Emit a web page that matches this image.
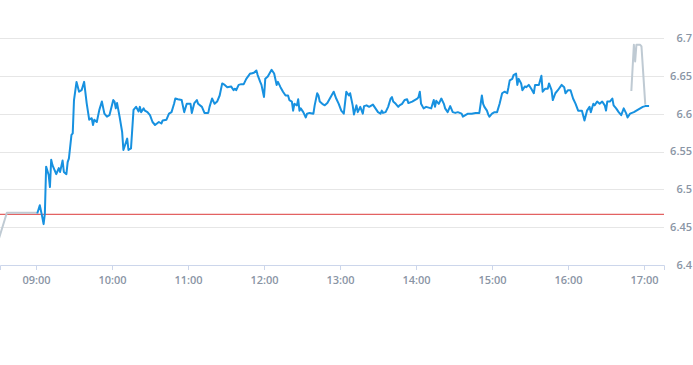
<!DOCTYPE html>
<html>
<head>
<meta charset="utf-8">
<script src="https://cdn.jsdelivr.net/npm/d3@7"></script>
<style>
  body { margin: 0; background: #fff; }
  .axis-label { font-family: "Open Sans", sans-serif; font-size: 11px; font-weight: 600; fill: #8a95a5; }
</style>
</head>
<body>
<div id="chart"></div>
<script>
const width = 693;
const height = 365;
const plot = { left: 0, right: 664, top: 38, bottom: 265 };

// DATA
const prevClose = 6.467;
const yTicks = [6.4, 6.45, 6.5, 6.55, 6.6, 6.65, 6.7];
const xDomain = ["08:31:35", "17:15:47"];

const tradeTimes = [
  "09:01","09:03","09:05","09:06","09:07","09:08","09:10","09:11","09:12","09:13","09:14","09:16","09:18","09:19","09:21","09:22","09:24","09:25","09:26","09:28","09:29","09:30","09:32","09:34","09:36","09:38","09:40","09:42","09:44","09:45","09:46","09:48","09:50","09:52","09:54","09:56","09:58",
  "10:01","10:02","10:03","10:04","10:06","10:08","10:09","10:12","10:13","10:15","10:17","10:19","10:21","10:22","10:23","10:25","10:26","10:28","10:30","10:32","10:33","10:34","10:37","10:39","10:40","10:43","10:45","10:47","10:49","10:50","10:52","10:55","10:57","10:59",
  "11:02","11:03","11:05","11:07","11:08","11:11","11:13","11:16","11:17","11:19","11:21","11:23","11:25","11:27","11:29","11:31","11:34","11:36","11:37","11:38","11:40","11:42","11:44","11:46","11:49","11:50","11:52","11:54","11:55","11:57","11:58",
  "12:00","12:01","12:03","12:06","12:08","12:10","12:11","12:13","12:15","12:17","12:19","12:20","12:22","12:23","12:24","12:26","12:27","12:28","12:29","12:31","12:33","12:34","12:36","12:39","12:40","12:42","12:43","12:44","12:46","12:48","12:50","12:52","12:55","12:57","12:59",
  "13:01","13:03","13:05","13:07","13:08","13:10","13:11","13:13","13:14","13:16","13:18","13:19","13:21","13:23","13:25","13:26","13:28","13:30","13:32","13:33","13:34","13:36","13:38","13:40","13:41","13:42","13:44","13:46","13:47","13:49","13:51","13:53","13:54","13:57","13:59",
  "14:01","14:02","14:03","14:04","14:06","14:08","14:10","14:12","14:14","14:15","14:16","14:18","14:20","14:22","14:23","14:25","14:27","14:29","14:31","14:33","14:36","14:37","14:39","14:41","14:44","14:47","14:50","14:52","14:53","14:54","14:56","14:57","14:58",
  "15:00","15:02","15:04","15:06","15:08","15:10","15:12","15:13","15:14","15:16","15:17","15:19","15:20","15:21","15:23","15:24","15:26","15:27","15:29","15:31","15:33","15:34","15:37","15:39","15:40","15:42","15:44","15:45","15:47","15:48","15:50","15:52","15:55","15:57","15:58",
  "16:00","16:02","16:04","16:06","16:08","16:11","16:13","16:15","16:17","16:18","16:20","16:21","16:23","16:25","16:27","16:29","16:30","16:31","16:33","16:35","16:36","16:38","16:40","16:42","16:44","16:46","16:47","16:49","16:52","16:54","16:57","16:59",
  "17:01","17:04",
];

const tradePrices = [
  6.468,6.479,6.463,6.454,6.468,6.530,6.519,6.503,6.539,6.532,6.528,6.520,6.528,6.523,6.538,6.523,6.520,6.536,6.541,6.572,6.574,6.618,6.642,6.629,6.631,6.642,6.614,6.592,6.594,6.585,6.592,6.589,6.605,6.616,6.600,6.596,6.598,
  6.618,6.616,6.607,6.614,6.596,6.576,6.552,6.567,6.552,6.554,6.605,6.609,6.603,6.609,6.602,6.607,6.604,6.602,6.598,6.589,6.587,6.585,6.589,6.587,6.591,6.592,6.600,6.602,6.613,6.620,6.619,6.618,6.602,6.613,
  6.613,6.601,6.614,6.618,6.613,6.609,6.601,6.601,6.609,6.620,6.613,6.616,6.624,6.640,6.638,6.635,6.636,6.631,6.633,6.631,6.638,6.639,6.639,6.646,6.653,6.653,6.654,6.657,6.651,6.642,6.638,
  6.622,6.646,6.649,6.658,6.653,6.638,6.642,6.635,6.629,6.624,6.624,6.618,6.616,6.604,6.613,6.611,6.619,6.604,6.607,6.602,6.595,6.600,6.601,6.600,6.611,6.627,6.624,6.616,6.613,6.611,6.614,6.620,6.629,6.620,6.613,
  6.604,6.600,6.629,6.624,6.627,6.611,6.599,6.611,6.602,6.609,6.600,6.610,6.611,6.609,6.611,6.612,6.607,6.602,6.600,6.604,6.601,6.602,6.609,6.620,6.622,6.616,6.613,6.609,6.611,6.613,6.618,6.619,6.614,6.616,6.618,
  6.620,6.622,6.629,6.613,6.607,6.609,6.608,6.607,6.618,6.609,6.617,6.613,6.620,6.613,6.607,6.602,6.610,6.602,6.601,6.602,6.600,6.596,6.598,6.600,6.600,6.601,6.601,6.624,6.613,6.609,6.604,6.599,6.596,
  6.600,6.602,6.602,6.613,6.627,6.629,6.627,6.635,6.644,6.646,6.651,6.653,6.638,6.646,6.640,6.631,6.636,6.635,6.638,6.633,6.627,6.638,6.638,6.650,6.629,6.633,6.633,6.640,6.631,6.618,6.627,6.631,6.638,6.635,6.627,
  6.631,6.631,6.620,6.613,6.604,6.604,6.591,6.604,6.609,6.602,6.613,6.611,6.616,6.613,6.616,6.611,6.604,6.616,6.616,6.620,6.611,6.607,6.602,6.598,6.607,6.600,6.595,6.600,6.602,6.604,6.607,6.609,
  6.610,6.610,
];

const preTimes = ["08:30", "08:37", "09:01"];
const prePrices = [6.431, 6.469, 6.469];

const postTimes = ["16:50", "16:52", "16:53", "16:54", "16:57", "16:58", "17:01"];
const postPrices = [6.63, 6.691, 6.669, 6.691, 6.691, 6.689, 6.612];

drawChart();

function drawChart() {
  const parseTime = d3.timeParse("%H:%M");
  const parseFull = d3.timeParse("%H:%M:%S");
  const toSeries = (times, prices) =>
    times.map((t, i) => ({ time: parseTime(t), price: prices[i] }));

  const trades = toSeries(tradeTimes, tradePrices);
  const pre = toSeries(preTimes, prePrices);
  const post = toSeries(postTimes, postPrices);

  // SCALES
  const timeScale = d3
    .scaleTime()
    .domain(xDomain.map(parseFull))
    .range([plot.left, plot.right]);

  const priceScale = d3
    .scaleLinear()
    .domain([6.4, 6.7])
    .range([plot.bottom, plot.top]);

  const svg = d3
    .select("#chart")
    .append("svg")
    .attr("width", width)
    .attr("height", height);

  svg
    .append("defs")
    .append("clipPath")
    .attr("id", "plot-clip")
    .append("rect")
    .attr("x", plot.left)
    .attr("y", 0)
    .attr("width", plot.right - plot.left)
    .attr("height", plot.bottom);

  // GRID + Y LABELS
  svg
    .append("g")
    .selectAll("line")
    .data(yTicks.slice(1))
    .join("line")
    .attr("x1", plot.left)
    .attr("x2", plot.right)
    .attr("y1", (d) => Math.round(priceScale(d)) + 0.5)
    .attr("y2", (d) => Math.round(priceScale(d)) + 0.5)
    .attr("stroke", "#e6e6e6");

  svg
    .append("g")
    .selectAll("text")
    .data(yTicks)
    .join("text")
    .attr("class", "axis-label")
    .attr("x", 692)
    .attr("y", (d) => priceScale(d))
    .attr("dy", "0.35em")
    .attr("text-anchor", "end")
    .text((d) => String(+d.toFixed(2)));

  // X AXIS
  const xAxis = d3
    .axisBottom(timeScale)
    .ticks(d3.timeHour.every(1))
    .tickFormat(d3.timeFormat("%H:%M"))
    .tickSize(5)
    .tickPadding(6);

  const xAxisGroup = svg
    .append("g")
    .attr("transform", `translate(0,${plot.bottom})`)
    .call(xAxis);
  xAxisGroup.select(".domain").attr("stroke", "#ccd6eb");
  xAxisGroup.selectAll(".tick line").attr("stroke", "#ccd6eb");
  xAxisGroup
    .selectAll(".tick text")
    .attr("class", "axis-label")
    .attr("fill", null);

  // LINES
  const lineGenerator = d3
    .line()
    .x((d) => timeScale(d.time))
    .y((d) => priceScale(d.price));

  const lines = svg.append("g").attr("clip-path", "url(#plot-clip)");

  lines
    .append("line")
    .attr("x1", plot.left)
    .attr("x2", plot.right)
    .attr("y1", priceScale(prevClose))
    .attr("y2", priceScale(prevClose))
    .attr("stroke", "#dd3b3b")
    .attr("stroke-width", 1);

  [pre, post].forEach((series) => {
    lines
      .append("path")
      .attr("d", lineGenerator(series))
      .attr("fill", "none")
      .attr("stroke", "#bfcad3")
      .attr("stroke-width", 2)
      .attr("stroke-linejoin", "round");
  });

  lines
    .append("path")
    .attr("d", lineGenerator(trades))
    .attr("fill", "none")
    .attr("stroke", "#1791e0")
    .attr("stroke-width", 2)
    .attr("stroke-linejoin", "round");
}
</script>
</body>
</html>
